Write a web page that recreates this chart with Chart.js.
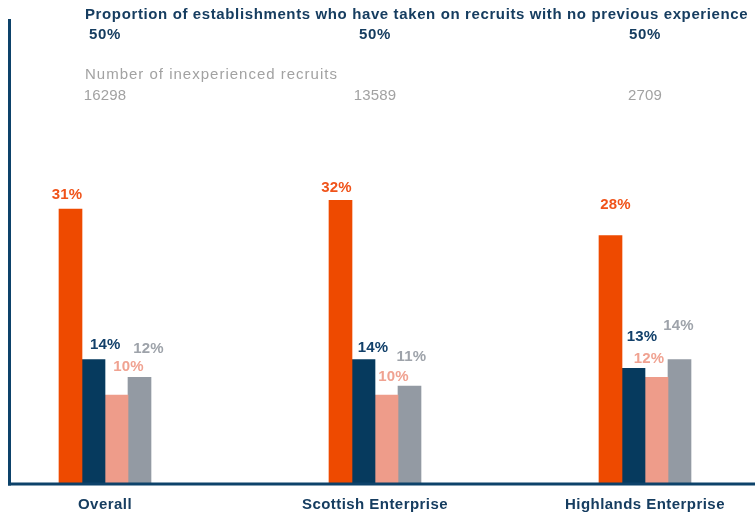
<!DOCTYPE html>
<html>
<head>
<meta charset="utf-8">
<script src="https://cdn.jsdelivr.net/npm/chart.js@4/dist/chart.umd.min.js"></script>
<style>
  html, body { margin: 0; padding: 0; background: #ffffff; }
  #wrap { width: 755px; height: 516px; position: relative; }
</style>
</head>
<body>
<div id="wrap"><canvas id="c" width="755" height="516"></canvas></div>
<script>
// Categories and values
const groups = ['Overall', 'Scottish Enterprise', 'Highlands Enterprise'];
const series1 = [31, 32, 28];
const series2 = [14, 14, 13];
const series3 = [10, 10, 12];
const series4 = [12, 11, 14];
const shareTakenOn = ['50%', '50%', '50%'];
const recruitCounts = ['16298', '13589', '2709'];

const titleShare = 'Proportion of establishments who have taken on recruits with no previous experience';
const titleCount = 'Number of inexperienced recruits';

const colors = ['#ee4a00', '#063a5e', '#ee9c8a', '#939aa3'];
const labelColors = ['#f0531a', '#12406a', '#f0a291', '#9ea3aa'];
const TEXT_NAVY = '#163d60';

// Hand-placed value label offsets (dx, dy from bar centre / bar top to label centre)
const labelNudge = [
  [[-3.5, -14], [-4, -12.5], [5, -30.5]],
  [[11.7, -14.5], [9.5, -12], [8.5, -32]],
  [[12, -27.7], [7, -18.5], [-7.5, -18.5]],
  [[9, -28], [2, -29], [-1, -33.5]]
];

const FONT = '"Liberation Sans", Arial, Helvetica, sans-serif';

function spacing(ctx, px) {
  if ('letterSpacing' in ctx) ctx.letterSpacing = px + 'px';
}

const overlay = {
  id: 'overlay',
  afterDatasetsDraw(chart) {
    const ctx = chart.ctx;
    const x = chart.scales.x;
    ctx.save();
    // axis lines
    ctx.fillStyle = '#0d426a';
    ctx.fillRect(8, 19, 3, 466.5);
    ctx.fillRect(8, 482.5, 747, 3);

    // value labels above bars
    ctx.font = 'bold 15px ' + FONT;
    ctx.textAlign = 'center';
    ctx.textBaseline = 'middle';
    spacing(ctx, 0.2);
    chart.data.datasets.forEach((ds, di) => {
      const meta = chart.getDatasetMeta(di);
      meta.data.forEach((bar, i) => {
        const [dx, dy] = labelNudge[di][i];
        ctx.fillStyle = labelColors[di];
        ctx.fillText(ds.data[i] + '%', bar.x + dx, bar.y + dy);
      });
    });

    // category names under the axis
    ctx.fillStyle = TEXT_NAVY;
    spacing(ctx, 0.45);
    groups.forEach((g, i) => ctx.fillText(g, x.getPixelForValue(i), 505));

    // header rows
    ctx.textBaseline = 'alphabetic';
    ctx.textAlign = 'left';
    spacing(ctx, 0.62);
    ctx.fillText(titleShare, 85, 18.5);
    ctx.textAlign = 'center';
    spacing(ctx, 0.6);
    shareTakenOn.forEach((t, i) => ctx.fillText(t, x.getPixelForValue(i), 39.3));

    ctx.fillStyle = '#a2a2a2';
    ctx.font = '15px ' + FONT;
    ctx.textAlign = 'left';
    spacing(ctx, 1);
    ctx.fillText(titleCount, 85, 78.5);
    ctx.textAlign = 'center';
    spacing(ctx, 0.2);
    recruitCounts.forEach((t, i) => ctx.fillText(t, x.getPixelForValue(i), 100.3));
    ctx.restore();
  }
};

new Chart(document.getElementById('c'), {
  type: 'bar',
  data: {
    labels: groups,
    datasets: [
      { label: 'Series 1', data: series1, backgroundColor: colors[0] },
      { label: 'Series 2', data: series2, backgroundColor: colors[1] },
      { label: 'Series 3', data: series3, backgroundColor: colors[2] },
      { label: 'Series 4', data: series4, backgroundColor: colors[3] }
    ]
  },
  options: {
    responsive: false,
    animation: false,
    events: [],
    layout: { padding: { left: 105, right: 110, top: 129.5, bottom: 32.5 } },
    datasets: { bar: { barThickness: 23, clip: false, borderWidth: 0 } },
    plugins: { legend: { display: false }, tooltip: { enabled: false } },
    scales: {
      x: {
        offset: false,
        grid: { display: false, drawTicks: false },
        border: { display: false },
        ticks: { display: false }
      },
      y: {
        display: false,
        min: 0,
        max: 40
      }
    }
  },
  plugins: [overlay]
});
</script>
</body>
</html>
